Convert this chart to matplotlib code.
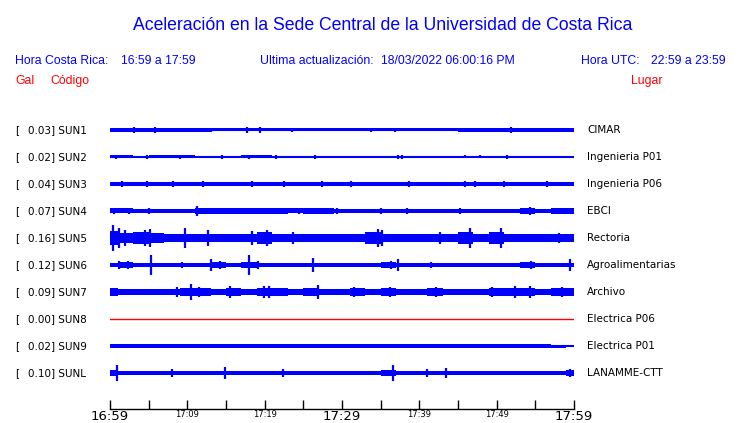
import matplotlib
matplotlib.use('Agg')
import matplotlib.pyplot as plt
import numpy as np

# ---------------------------------------------------------------- data
codes = ['SUN1', 'SUN2', 'SUN3', 'SUN4', 'SUN5', 'SUN6', 'SUN7', 'SUN8', 'SUN9', 'SUNL']
places = ['CIMAR', 'Ingenieria P01', 'Ingenieria P06', 'EBCI', 'Rectoria',
          'Agroalimentarias', 'Archivo', 'Electrica P06', 'Electrica P01', 'LANAMME-CTT']
peak_gal = [0.03, 0.02, 0.04, 0.07, 0.16, 0.12, 0.09, 0.00, 0.02, 0.10]

# envelope (half amplitude, Gal) every 2 minutes, 16:59 -> 17:59
env_minutes = list(range(0, 61, 2))
env_sun1 = [0.022, 0.022, 0.023, 0.022, 0.022, 0.021, 0.022, 0.018, 0.019, 0.018, 0.018,
            0.018, 0.019, 0.018, 0.018, 0.018, 0.018, 0.019, 0.018, 0.018, 0.018, 0.018,
            0.018, 0.022, 0.022, 0.023, 0.022, 0.022, 0.023, 0.022, 0.022]
env_sun2 = [0.018, 0.018, 0.012, 0.018, 0.018, 0.018, 0.011, 0.016, 0.016, 0.018, 0.018,
            0.016, 0.012, 0.016, 0.014, 0.009, 0.011, 0.009, 0.012, 0.014, 0.009, 0.011,
            0.009, 0.014, 0.014, 0.009, 0.016, 0.009, 0.009, 0.009, 0.009]
env_sun3 = [0.028, 0.029, 0.028, 0.029, 0.028, 0.028, 0.027, 0.028, 0.027, 0.028, 0.028,
            0.027, 0.027, 0.028, 0.027, 0.027, 0.026, 0.026, 0.027, 0.028, 0.027, 0.026,
            0.027, 0.028, 0.027, 0.027, 0.027, 0.026, 0.027, 0.027, 0.027]
env_sun4 = [0.031, 0.031, 0.030, 0.030, 0.030, 0.030, 0.032, 0.032, 0.033, 0.032, 0.032,
            0.032, 0.031, 0.032, 0.032, 0.030, 0.029, 0.029, 0.030, 0.029, 0.029, 0.029,
            0.029, 0.029, 0.029, 0.029, 0.030, 0.035, 0.030, 0.034, 0.035]
env_sun5 = [0.090, 0.060, 0.080, 0.060, 0.050, 0.055, 0.050, 0.050, 0.045, 0.055, 0.070,
            0.045, 0.050, 0.045, 0.045, 0.050, 0.050, 0.075, 0.050, 0.050, 0.045, 0.055,
            0.045, 0.070, 0.045, 0.070, 0.045, 0.050, 0.050, 0.050, 0.050]
env_sun6 = [0.025, 0.035, 0.030, 0.030, 0.020, 0.030, 0.025, 0.035, 0.030, 0.035, 0.030,
            0.022, 0.020, 0.030, 0.025, 0.022, 0.022, 0.025, 0.035, 0.030, 0.025, 0.022,
            0.022, 0.022, 0.025, 0.022, 0.022, 0.035, 0.030, 0.025, 0.030]
env_sun7 = [0.045, 0.040, 0.035, 0.040, 0.040, 0.050, 0.045, 0.040, 0.045, 0.035, 0.055,
            0.045, 0.035, 0.045, 0.040, 0.040, 0.045, 0.040, 0.045, 0.040, 0.040, 0.045,
            0.040, 0.040, 0.040, 0.045, 0.045, 0.050, 0.040, 0.055, 0.055]
env_sun8 = [0.0] * 31
env_sun9 = [0.020, 0.020, 0.020, 0.020, 0.020, 0.020, 0.020, 0.020, 0.020, 0.020, 0.020,
            0.020, 0.020, 0.020, 0.020, 0.020, 0.020, 0.020, 0.020, 0.020, 0.020, 0.020,
            0.020, 0.020, 0.020, 0.020, 0.020, 0.020, 0.020, 0.019, 0.017]
env_sunl = [0.035, 0.030, 0.030, 0.030, 0.030, 0.028, 0.030, 0.030, 0.025, 0.030, 0.025,
            0.030, 0.028, 0.030, 0.025, 0.030, 0.028, 0.030, 0.035, 0.030, 0.030, 0.030,
            0.028, 0.028, 0.030, 0.028, 0.030, 0.028, 0.030, 0.030, 0.035]

# isolated spikes: (minute, half amplitude in Gal)
spk_sun1 = [(3.1, 0.040), (5.8, 0.035), (13.1, 0.025), (17.7, 0.035), (19.4, 0.035),
            (23.5, 0.025), (33.7, 0.025), (36.9, 0.030), (50.0, 0.030), (51.8, 0.040)]
spk_sun2 = [(0.8, 0.020), (4.8, 0.020), (9.0, 0.020), (14.5, 0.020), (18.0, 0.020),
            (21.5, 0.020), (26.5, 0.020), (32.8, 0.015), (37.2, 0.027), (37.7, 0.022),
            (41.0, 0.015), (45.9, 0.018), (47.8, 0.018), (51.3, 0.020)]
spk_sun3 = [(1.5, 0.034), (4.8, 0.034), (8.2, 0.034), (12.0, 0.033), (18.3, 0.038),
            (22.5, 0.034), (27.4, 0.036), (31.2, 0.033), (38.6, 0.033), (45.9, 0.035),
            (47.2, 0.035), (51.0, 0.035), (56.5, 0.033)]
spk_sun4 = [(0.5, 0.035), (2.5, 0.035), (5.0, 0.035), (11.2, 0.067), (16.0, 0.035),
            (18.4, 0.040), (20.3, 0.040), (24.5, 0.040), (29.3, 0.040), (35.0, 0.035),
            (38.4, 0.040), (45.2, 0.037), (54.3, 0.045), (58.0, 0.038)]
spk_sun5 = [(0.4, 0.160), (1.2, 0.120), (2.0, 0.100), (4.5, 0.100), (5.2, 0.110),
            (9.7, 0.125), (12.7, 0.100), (18.3, 0.090), (20.3, 0.100), (23.7, 0.070),
            (34.6, 0.110), (35.2, 0.100), (42.7, 0.080), (46.6, 0.125), (50.6, 0.125),
            (58.0, 0.067)]
spk_sun6 = [(1.1, 0.050), (2.3, 0.045), (5.3, 0.120), (9.3, 0.040), (13.1, 0.070),
            (14.2, 0.050), (18.0, 0.120), (19.2, 0.050), (26.2, 0.090), (36.4, 0.055),
            (37.3, 0.070), (41.5, 0.040), (54.5, 0.055), (59.5, 0.080)]
spk_sun7 = [(8.6, 0.065), (10.5, 0.100), (11.5, 0.065), (15.5, 0.080), (19.9, 0.075),
            (20.5, 0.070), (26.9, 0.090), (31.5, 0.060), (36.2, 0.060), (42.2, 0.058),
            (49.4, 0.058), (52.4, 0.080), (54.3, 0.070), (58.5, 0.058)]
spk_sun8 = []
spk_sun9 = []
spk_sunl = [(0.9, 0.100), (8.0, 0.045), (14.9, 0.080), (22.4, 0.045), (36.6, 0.100),
            (41.0, 0.045), (43.5, 0.060), (59.5, 0.055)]

envelopes = [env_sun1, env_sun2, env_sun3, env_sun4, env_sun5,
             env_sun6, env_sun7, env_sun8, env_sun9, env_sunl]
spikes = [spk_sun1, spk_sun2, spk_sun3, spk_sun4, spk_sun5,
          spk_sun6, spk_sun7, spk_sun8, spk_sun9, spk_sunl]

tick_minutes = list(range(0, 61, 5))
label_minutes = [0, 10, 20, 30, 40, 50, 60]
label_text = ['16:59', '17:09', '17:19', '17:29', '17:39', '17:49', '17:59']

# ---------------------------------------------------------------- figure
W, H = 740, 423
fig = plt.figure(figsize=(W / 100, H / 100), dpi=100)
BLUE = '#0000ff'
RED = '#ff0000'
GAIN = 80 / 27  # Gal -> trace spacing units

ax = fig.add_axes([110 / W, 1 - 409 / H, 464 / W, (409 - 111) / H])
ax.set_xlim(0, 60)
ax.set_ylim(10.33, -0.7)


def label_row(i):
    ax.annotate('[', xy=(15 / W, i), xycoords=('figure fraction', 'data'),
                va='center', ha='left', fontsize=7.5, family='DejaVu Sans')
    ax.annotate('%.2f] %s' % (peak_gal[i], codes[i]), xy=(27.5 / W, i),
                xycoords=('figure fraction', 'data'),
                va='center', ha='left', fontsize=7.5, family='DejaVu Sans')
    ax.annotate(places[i], xy=(587 / W, i), xycoords=('figure fraction', 'data'),
                va='center', ha='left', fontsize=7.5, family='DejaVu Sans')


for i, (env, spk) in enumerate(zip(envelopes, spikes)):
    label_row(i)
    env = np.array(env)
    if env.max() == 0:
        ax.plot([0, 60], [i, i], color=RED, lw=1)
        continue
    ax.fill_between(env_minutes, i - env * GAIN, i + env * GAIN, color=BLUE, lw=0,
                    step='mid')
    ax.plot([0, 60], [i, i], color=BLUE, lw=1.5, solid_capstyle='butt')
    if spk:
        st = [s[0] for s in spk]
        sa = np.array([s[1] for s in spk])
        ax.vlines(st, i - sa * GAIN, i + sa * GAIN, color=BLUE, lw=1.6)

for s in ['top', 'left', 'right']:
    ax.spines[s].set_visible(False)
ax.spines['bottom'].set_linewidth(1)
ax.set_yticks([])
ax.set_xticks(tick_minutes)
ax.set_xticklabels(['' if m not in label_minutes else label_text[label_minutes.index(m)]
                    for m in tick_minutes])
ax.tick_params(axis='x', direction='in', length=6.5, width=1, pad=1)
for lab in ax.get_xticklabels():
    if lab.get_text() in ('16:59', '17:29', '17:59'):
        lab.set_fontsize(9.5)
    else:
        lab.set_fontsize(6)
    lab.set_family('DejaVu Sans')

# ---------------------------------------------------------------- header
hf = 'Liberation Sans'
fig.text(382.5 / W, 1 - 29.5 / H, 'Aceleración en la Sede Central de la Universidad de Costa Rica',
         ha='center', va='baseline', color=BLUE, fontsize=12.7, family=hf)
row1 = 1 - 64 / H
row2 = 1 - 84 / H
fig.text(15 / W, row1, 'Hora Costa Rica:', color=BLUE, fontsize=8.8, family=hf, va='baseline')
fig.text(121 / W, row1, '16:59 a 17:59', color=BLUE, fontsize=8.8, family=hf, va='baseline')
fig.text(260 / W, row1, 'Ultima actualización:', color=BLUE, fontsize=8.8, family=hf, va='baseline')
fig.text(381 / W, row1, '18/03/2022 06:00:16 PM', color=BLUE, fontsize=8.8, family=hf, va='baseline')
fig.text(581 / W, row1, 'Hora UTC:', color=BLUE, fontsize=8.8, family=hf, va='baseline')
fig.text(651 / W, row1, '22:59 a 23:59', color=BLUE, fontsize=8.8, family=hf, va='baseline')
fig.text(15 / W, row2, 'Gal', color=RED, fontsize=8.8, family=hf, va='baseline')
fig.text(50 / W, row2, 'Código', color=RED, fontsize=8.8, family=hf, va='baseline')
fig.text(631 / W, row2, 'Lugar', color=RED, fontsize=8.8, family=hf, va='baseline')

fig.savefig('out.png', dpi=100)
